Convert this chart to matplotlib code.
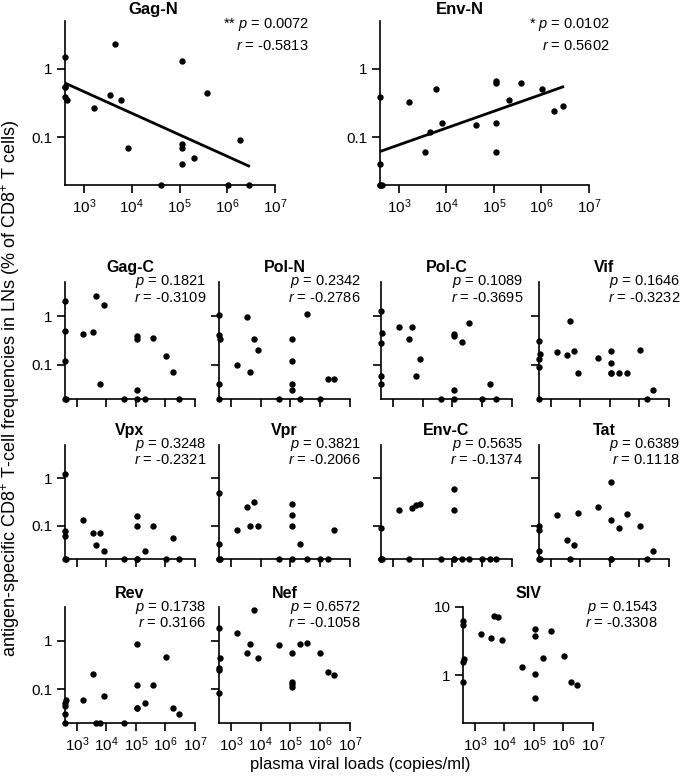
import numpy as np
import matplotlib
matplotlib.use("Agg")
import matplotlib.pyplot as plt
from matplotlib.ticker import NullLocator

plt.rcParams['font.family'] = 'Liberation Sans'
plt.rcParams['mathtext.fontset'] = 'custom'
plt.rcParams['mathtext.rm'] = 'Liberation Sans'
plt.rcParams['mathtext.it'] = 'Liberation Sans:italic'
plt.rcParams['mathtext.bf'] = 'Liberation Sans:bold'

# plasma viral load of each animal (copies/ml), same order in every panel
viral_load = [400, 400, 400, 400, 440, 1650, 3500, 4500, 6000, 8200, 41000,
              112000, 112000, 112000, 112000, 205000, 370000, 1020000, 1860000, 2800000]

# % of CD8+ T cells responding to each antigen
gag_n = [1.48, 0.55, 0.55, 0.39, 0.35, 0.27, 0.42, 2.3, 0.35, 0.07, 0.02,
         1.28, 0.08, 0.07, 0.04, 0.05, 0.45, 0.02, 0.09, 0.02]
env_n = [0.385, 0.041, 0.02, 0.02, 0.02, 0.33, 0.06, 0.12, 0.50, 0.16, 0.15,
         0.67, 0.62, 0.16, 0.06, 0.355, 0.62, 0.50, 0.245, 0.29]
gag_c = [2.0, 0.49, 0.12, 0.02, 0.02, 0.44, 0.48, 2.6, 0.04, 1.66, 0.02,
         0.40, 0.34, 0.03, 0.02, 0.02, 0.36, 0.15, 0.07, 0.02]
pol_n = [1.05, 0.41, 0.04, 0.02, 0.34, 0.10, 0.97, 0.071, 0.335, 0.20, 0.02,
         0.335, 0.12, 0.04, 0.03, 0.02, 1.1, 0.02, 0.051, 0.051]
pol_c = [1.25, 0.28, 0.06, 0.04, 0.445, 0.59, 0.34, 0.61, 0.06, 0.13, 0.02,
         0.43, 0.39, 0.03, 0.02, 0.30, 0.72, 0.02, 0.04, 0.02]
vif = [0.31, 0.13, 0.09, 0.02, 0.17, 0.18, 0.16, 0.79, 0.19, 0.069, 0.14,
       0.19, 0.11, 0.069, 0.069, 0.069, 0.069, 0.20, 0.02, 0.03]
vpx = [1.25, 0.079, 0.06, 0.02, 0.02, 0.13, 0.069, 0.039, 0.069, 0.029, 0.02,
       0.16, 0.10, 0.02, 0.02, 0.029, 0.10, 0.02, 0.055, 0.02]
vpr = [0.48, 0.041, 0.02, 0.02, 0.02, 0.081, 0.25, 0.10, 0.31, 0.10, 0.02,
       0.29, 0.17, 0.10, 0.02, 0.041, 0.02, 0.02, 0.02, 0.081]
env_c = [0.09, 0.02, 0.02, 0.02, 0.02, 0.21, 0.02, 0.24, 0.27, 0.29, 0.02,
         0.59, 0.21, 0.02, 0.02, 0.02, 0.02, 0.02, 0.02, 0.02]
tat = [0.10, 0.081, 0.029, 0.02, 0.02, 0.17, 0.05, 0.02, 0.04, 0.19, 0.245,
       0.85, 0.13, 0.02, 0.02, 0.09, 0.18, 0.10, 0.02, 0.029]
rev = [0.051, 0.045, 0.03, 0.02, 0.06, 0.06, 0.21, 0.02, 0.02, 0.071, 0.02,
       0.84, 0.12, 0.041, 0.041, 0.051, 0.12, 0.46, 0.041, 0.03]
nef = [1.83, 0.27, 0.25, 0.082, 0.44, 1.45, 0.55, 0.86, 4.3, 0.44, 0.82,
       0.57, 0.14, 0.126, 0.112, 0.85, 0.92, 0.57, 0.23, 0.20]
siv = [6.2, 5.4, 1.55, 0.80, 1.76, 4.0, 3.5, 7.5, 7.1, 3.3, 1.32,
       4.7, 3.7, 1.04, 0.46, 1.8, 4.5, 1.93, 0.80, 0.71]

names = ['Gag-N', 'Env-N', 'Gag-C', 'Pol-N', 'Pol-C', 'Vif', 'Vpx', 'Vpr',
         'Env-C', 'Tat', 'Rev', 'Nef', 'SIV']
values = [gag_n, env_n, gag_c, pol_n, pol_c, vif, vpx, vpr, env_c, tat, rev, nef, siv]
p_vals = ['0.0072', '0.0102', '0.1821', '0.2342', '0.1089', '0.1646', '0.3248',
          '0.3821', '0.5635', '0.6389', '0.1738', '0.6572', '0.1543']
r_vals = ['-0.5813', '0.5602', '-0.3109', '-0.2786', '-0.3695', '-0.3232', '-0.2321',
          '-0.2066', '-0.1374', '0.1118', '0.3166', '-0.1058', '-0.3308']
stars = ['** ', '* ', '', '', '', '', '', '', '', '', '', '', '']

W, H = 685, 776
fig = plt.figure(figsize=(W / 100, H / 100), dpi=100)

# panel boxes in pixels: left, top, right, bottom
cols = [(65, 195), (219, 350), (381, 512), (539, 669)]
rows = [(282, 399), (445, 559), (607, 723)]
boxes = [(65, 21, 275, 185), (380, 21, 589, 185)]
for r in rows:
    for c in cols:
        boxes.append((c[0], r[0], c[1], r[1]))
boxes = boxes[:12] + [(463, 607, 593, 723)]

xlabel_on = {'Gag-N', 'Env-N', 'Rev', 'Nef', 'SIV'}
ylabel_on = {'Gag-N', 'Env-N', 'Gag-C', 'Vpx', 'Rev', 'SIV'}
fit_on = {'Gag-N', 'Env-N'}

for i, name in enumerate(names):
    l, t, r, b = boxes[i]
    ax = fig.add_axes([l / W, 1 - b / H, (r - l) / W, (b - t) / H])
    big = i < 2
    ax.scatter(viral_load, values[i], s=21, color='black', zorder=3, clip_on=False,
               linewidths=0)
    if name in fit_on:
        lx = np.log10(viral_load)
        ly = np.log10(values[i])
        k, c0 = np.polyfit(lx, ly, 1)
        xs = np.array([min(lx), max(lx)])
        ax.plot(10 ** xs, 10 ** (k * xs + c0), color='black', lw=2)
    ax.set_xscale('log')
    ax.set_yscale('log')
    ax.set_xlim(400, 1e7)
    if name == 'SIV':
        ax.set_ylim(0.2, 10)
        ax.set_yticks([1, 10])
        ax.set_yticklabels(['1', '10'])
    else:
        ax.set_ylim(0.02, 5)
        ax.set_yticks([0.1, 1])
        ax.set_yticklabels(['0.1', '1'])
    ax.set_xticks([1e3, 1e4, 1e5, 1e6, 1e7])
    ax.set_xticklabels([r'$10^3$', r'$10^4$', r'$10^5$', r'$10^6$', r'$10^7$'])
    ax.xaxis.set_minor_locator(NullLocator())
    ax.yaxis.set_minor_locator(NullLocator())
    ax.spines['top'].set_visible(False)
    ax.spines['right'].set_visible(False)
    for s in ['left', 'bottom']:
        ax.spines[s].set_linewidth(1.2)
    ax.tick_params(direction='out', length=6, width=1.2, labelsize=11, pad=3)
    if name not in xlabel_on:
        ax.tick_params(axis='x', labelbottom=False)
    if name not in ylabel_on:
        ax.tick_params(axis='y', labelleft=False)

    if big:
        tx = 0.42 if i == 0 else 0.38
        ax.text(tx, 1.07, name, transform=ax.transAxes, ha='center', va='center',
                fontsize=12, fontweight='bold')
        sx = 1.16 if i == 0 else 1.10
        ax.text(sx, 0.976, stars[i] + '$p$ = ' + p_vals[i], transform=ax.transAxes,
                ha='right', va='center', fontsize=10.5)
        ax.text(sx, 0.845, '$r$ = ' + r_vals[i], transform=ax.transAxes,
                ha='right', va='center', fontsize=10.5)
    else:
        hpx = b - t
        wpx = r - l
        ax.text(0.5, 1 + 14 / hpx, name, transform=ax.transAxes, ha='center',
                va='center', fontsize=11.5, fontweight='bold')
        sx = 1.5 if name == 'SIV' else 1 + 11 / wpx
        ax.text(sx, 1.0, '$p$ = ' + p_vals[i], transform=ax.transAxes,
                ha='right', va='center', fontsize=10.5)
        ax.text(sx, 0.865, '$r$ = ' + r_vals[i], transform=ax.transAxes,
                ha='right', va='center', fontsize=10.5)

fig.text(360 / W, 1 - 765 / H, 'plasma viral loads (copies/ml)', ha='center',
         va='center', fontsize=12)
fig.text(11 / W, 1 - 388 / H,
         'antigen-specific CD8$^{+}$ T-cell frequencies in LNs (% of CD8$^{+}$ T cells)',
         ha='center', va='center', rotation=90, fontsize=13)

fig.savefig('out.png', dpi=100)
